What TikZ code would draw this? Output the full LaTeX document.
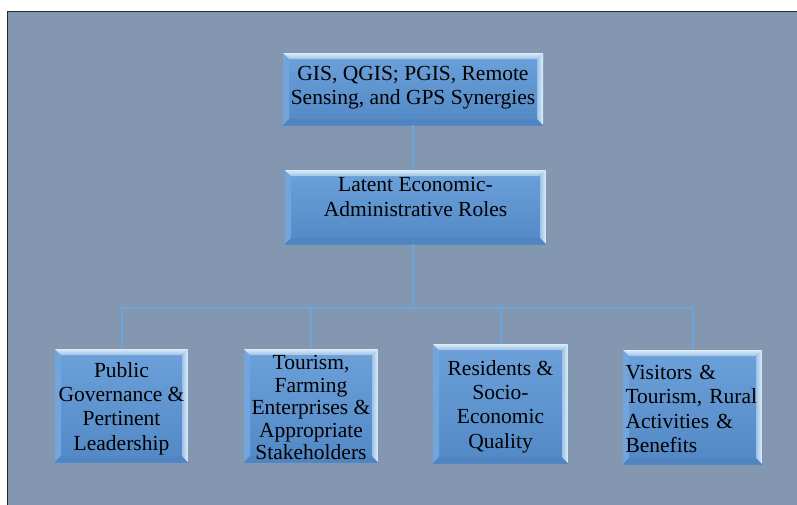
\documentclass[tikz,border=0pt]{standalone}
\usepackage{fontspec}
\setmainfont{Liberation Serif}
\usetikzlibrary{calc}

\definecolor{pagebg}{HTML}{8497B0}
\definecolor{framecol}{HTML}{262A30}
\definecolor{linkcol}{HTML}{6AA5E0}
\definecolor{boxtop}{HTML}{6CA1DA}
\definecolor{boxbot}{HTML}{5288C5}
\definecolor{bevhi}{HTML}{DDEBF7}
\definecolor{bevmid}{HTML}{9CC2E8}
\definecolor{bevside}{HTML}{E2EEF9}
\definecolor{bevleft}{HTML}{72A5DB}
\definecolor{bevlow}{HTML}{5085C2}

\tikzset{
  tiletext/.style={font=\fontsize{21.5}{24.3}\selectfont, text=black,
    align=center, inner sep=0pt},
  % raised blue tile with bevelled edges
  tile/.style={inner sep=0pt, top color=boxtop, bottom color=boxbot, draw=none,
    path picture={
      \coordinate (nw) at (path picture bounding box.north west);
      \coordinate (ne) at (path picture bounding box.north east);
      \coordinate (sw) at (path picture bounding box.south west);
      \coordinate (se) at (path picture bounding box.south east);
      \def\bv{6pt}
      \fill[bevleft] (nw) -- ([xshift=\bv,yshift=-\bv]nw) -- ([xshift=\bv,yshift=\bv]sw) -- (sw) -- cycle;
      \fill[bevlow] (sw) -- ([xshift=\bv,yshift=\bv]sw) -- ([xshift=-\bv,yshift=\bv]se) -- (se) -- cycle;
      \shade[top color=bevhi, bottom color=bevmid] (nw) -- (ne) -- ([xshift=-\bv,yshift=-\bv]ne) -- ([xshift=\bv,yshift=-\bv]nw) -- cycle;
      \shade[left color=bevmid, right color=bevside] (ne) -- (se) -- ([xshift=-\bv,yshift=\bv]se) -- ([xshift=-\bv,yshift=-\bv]ne) -- cycle;
    }},
  link/.style={draw=linkcol, line width=2pt}
}

\begin{document}
\begin{tikzpicture}[x=1pt, y=-1pt]
  \useasboundingbox (0,0) rectangle (797,504);
  % page panel
  \fill[white] (0,0) rectangle (797,504);
  \fill[pagebg] (7,11) rectangle (800,510);
  \draw[framecol, line width=1.6pt] (7.5,510) -- (7.5,11.5) -- (800,11.5);

  % upper tiles
  \node[tile, minimum width=260pt, minimum height=72pt,
    label={[tiletext, yshift=1pt]center:{GIS, QGIS; PGIS, Remote\\Sensing, and GPS Synergies}}]
    (top) at (413,89) {};
  \node[tile, minimum width=261pt, minimum height=74pt,
    label={[tiletext, yshift=10pt]center:{Latent Economic-\\Administrative Roles}}]
    (roles) at (415.5,207) {};

  % lower tiles
  \node[tile, minimum width=133pt, minimum height=113pt,
    label={[tiletext, yshift=-3pt]center:{Public\\Governance \&\\Pertinent\\Leadership}}]
    (gov) at (121.5,405.5) {};
  \node[tile, minimum width=134pt, minimum height=113pt,
    label={[tiletext, font=\fontsize{21.5}{22.5}\selectfont, yshift=-2pt]center:{Tourism,\\Farming\\Enterprises \&\\Appropriate\\Stakeholders}}]
    (tour) at (311,405.5) {};
  \node[tile, minimum width=135pt, minimum height=119pt,
    label={[tiletext, yshift=-3pt]center:{Residents \&\\Socio-\\Economic\\Quality}}]
    (res) at (500.5,403.5) {};
  \node[tile, minimum width=139pt, minimum height=114pt,
    label={[tiletext, align=left, text width=134pt, yshift=-2pt]center:{Visitors \&\\Tourism, Rural\\Activities \&\\Benefits}}]
    (vis) at (692.5,407) {};

  % connectors
  \coordinate (bus) at (413,308);
  \draw[link] (top.south) -- (top.south |- roles.north);
  \draw[link] (roles.south -| top.south) -- (bus);
  \draw[link] (bus) -| (gov.north);
  \draw[link] (bus) -| (tour.north);
  \draw[link] (bus) -| (res.north);
  \draw[link] (bus) -| (vis.north);
\end{tikzpicture}
\end{document}
